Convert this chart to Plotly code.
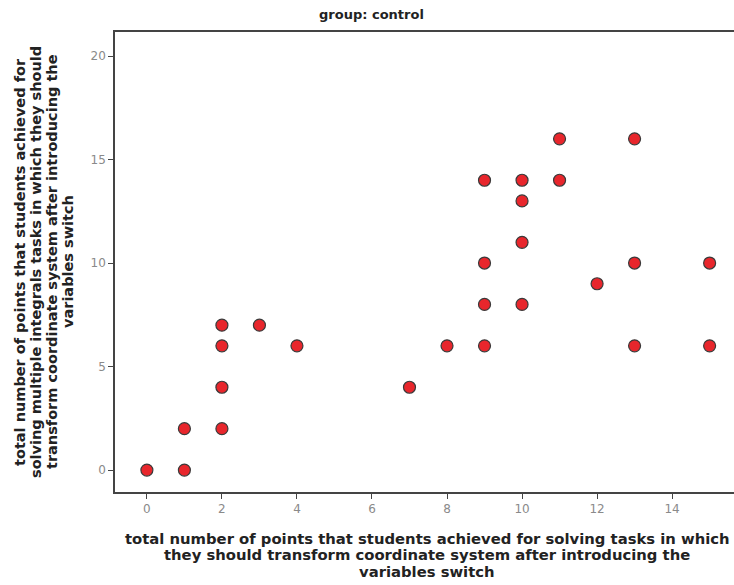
import plotly.graph_objects as go

x_points = [0, 1, 1, 2, 2, 2, 2, 3, 4, 7, 8, 9, 9, 9, 9, 10, 10, 10, 10, 11, 11, 12, 13, 13, 13, 15, 15]
y_points = [0, 0, 2, 2, 4, 6, 7, 7, 6, 4, 6, 6, 8, 10, 14, 8, 11, 13, 14, 14, 16, 9, 16, 10, 6, 10, 6]

x_ticks = [0, 2, 4, 6, 8, 10, 12, 14]
y_ticks = [0, 5, 10, 15, 20]

title_text = "group: control"
x_title_lines = ["total number of points that students achieved for solving tasks in which",
                 "they should transform coordinate system after introducing the",
                 "variables switch"]
y_title_lines = ["total number of points that students achieved for",
                 "solving multiple integrals tasks in which they should",
                 "transform coordinate system after introducing the",
                 "variables switch"]

W, H = 734, 585
PL, PR, PT, PB = 115, 734, 32, 492  # plot area in window pixels
L, T = PL, PT
R = W - PR
B = H - PB
pw, ph = PR - PL, PB - PT


def px(xw):
    return (xw - PL) / pw


def py(yw):
    return (PB - yw) / ph


fig = go.Figure()
fig.add_trace(go.Scatter(
    x=x_points, y=y_points, mode="markers",
    marker=dict(size=12, color="#e8262c", line=dict(color="#3a3a3a", width=1.2)),
    showlegend=False, hoverinfo="x+y"))

axis_color = "#444444"
fig.update_layout(
    width=W, height=H,
    margin=dict(l=L, r=R, t=T, b=B, pad=0),
    paper_bgcolor="white", plot_bgcolor="white",
    font=dict(family="DejaVu Sans", color="#222222"),
    xaxis=dict(range=[-0.85, 15.65], tickvals=x_ticks, showgrid=False, zeroline=False,
               showline=True, linecolor=axis_color, linewidth=1.5, mirror=True,
               ticks="outside", ticklen=5, tickcolor=axis_color, tickwidth=1.2,
               tickfont=dict(size=12, color="#8a8a8a", family="DejaVu Sans")),
    yaxis=dict(range=[-1.06, 21.16], tickvals=y_ticks, showgrid=False, zeroline=False,
               showline=True, linecolor=axis_color, linewidth=1.5,
               ticks="outside", ticklen=5, tickcolor=axis_color, tickwidth=1.2,
               tickfont=dict(size=12, color="#8a8a8a", family="DejaVu Sans")),
)

fig.add_annotation(text="<b>" + title_text + "</b>", xref="paper", yref="paper",
                   x=px(371), y=py(14), showarrow=False,
                   xanchor="center", yanchor="middle",
                   font=dict(size=13, family="DejaVu Sans", color="#222222"))

for i, line in enumerate(x_title_lines):
    fig.add_annotation(text="<b>" + line + "</b>", xref="paper", yref="paper",
                       x=px(427), y=py(538.5 + 16.3 * i), showarrow=False,
                       xanchor="center", yanchor="middle",
                       font=dict(size=14.8, family="DejaVu Sans", color="#222222"))

for i, line in enumerate(y_title_lines):
    fig.add_annotation(text="<b>" + line + "</b>", xref="paper", yref="paper",
                       x=px(20 + 16 * i), y=py(262), showarrow=False,
                       xanchor="center", yanchor="middle", textangle=-90,
                       font=dict(size=14.5, family="DejaVu Sans", color="#222222"))

fig.write_html("out.html", config={"displayModeBar": False},
               post_script="document.body.style.margin='0px';")
